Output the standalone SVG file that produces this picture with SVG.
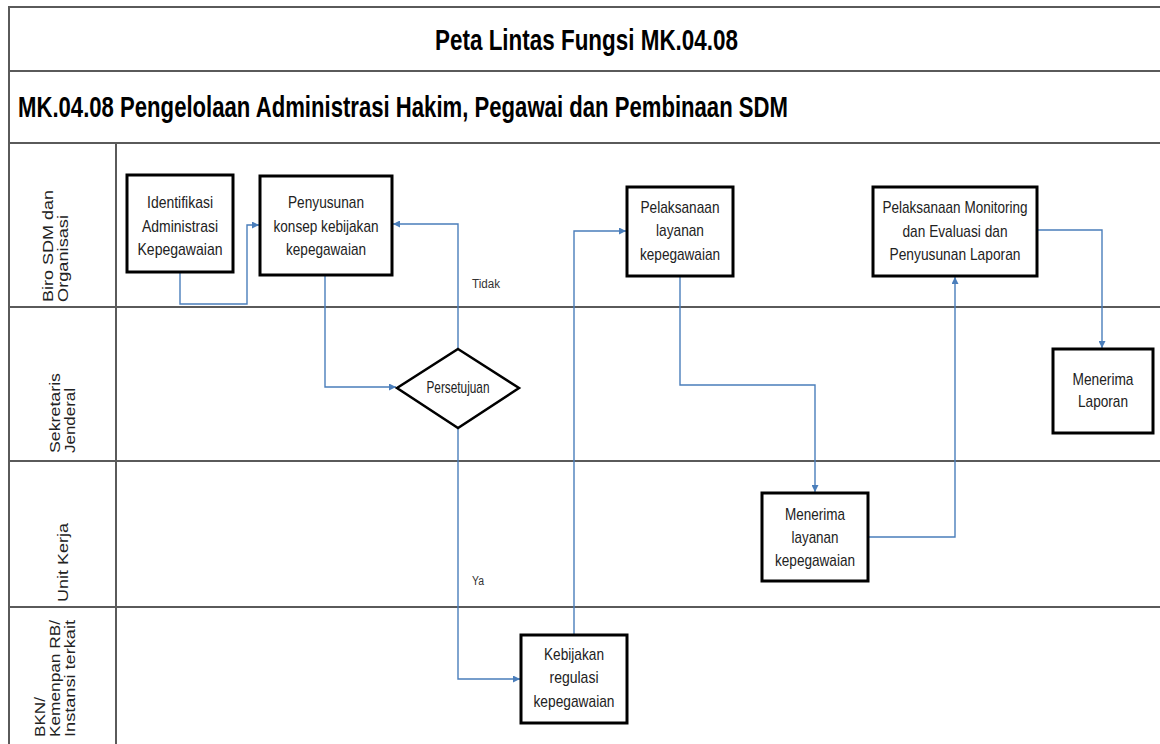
<svg xmlns="http://www.w3.org/2000/svg" width="1160" height="744" viewBox="0 0 1160 744">
<style>
.grid{stroke:#5a5a5a;stroke-width:2;fill:none}
.box{fill:#fff;stroke:#000;stroke-width:3}
.t{font-family:"Liberation Sans",Arial,sans-serif;font-size:17px;fill:#222;text-anchor:middle}
.lane{font-family:"Liberation Sans",Arial,sans-serif;font-size:14px;fill:#222}
.lbl{font-family:"Liberation Sans",Arial,sans-serif;font-size:12px;fill:#333}
.ttl{font-family:"Liberation Sans",Arial,sans-serif;font-weight:bold;fill:#000}
.c{fill:none;stroke:#4a7ebb;stroke-width:1.4}
</style>
<defs>
<marker id="ah" viewBox="0 0 10 10" refX="10" refY="5" markerWidth="7" markerHeight="7" markerUnits="userSpaceOnUse" orient="auto">
<path d="M0,0 L10,5 L0,10 z" fill="#4a7ebb"/>
</marker>
</defs>
<rect width="1160" height="744" fill="#fff"/>
<g id="grid">
<path class="grid" d="M9,745 V7 H1161"/>
<path class="grid" d="M9,71 H1161 M9,143 H1161 M9,307 H1161 M9,461 H1161 M9,607 H1161 M116,143 V745"/>
</g>
<g id="titles">
<text class="ttl" x="435" y="50" font-size="29" textLength="303" lengthAdjust="spacingAndGlyphs">Peta Lintas Fungsi MK.04.08</text>
<text class="ttl" x="18" y="117" font-size="29" textLength="770" lengthAdjust="spacingAndGlyphs">MK.04.08 Pengelolaan Administrasi Hakim, Pegawai dan Pembinaan SDM</text>
</g>
<g id="lanes">
<text class="lane" transform="translate(53,302) rotate(-90)" textLength="112" lengthAdjust="spacingAndGlyphs">Biro SDM dan</text>
<text class="lane" transform="translate(68,302) rotate(-90)" textLength="87" lengthAdjust="spacingAndGlyphs">Organisasi</text>
<text class="lane" transform="translate(60,453) rotate(-90)" textLength="80" lengthAdjust="spacingAndGlyphs">Sekretaris</text>
<text class="lane" transform="translate(75,453) rotate(-90)" textLength="65" lengthAdjust="spacingAndGlyphs">Jenderal</text>
<text class="lane" transform="translate(68,602) rotate(-90)" textLength="79" lengthAdjust="spacingAndGlyphs">Unit Kerja</text>
<text class="lane" transform="translate(45,737) rotate(-90)" textLength="40" lengthAdjust="spacingAndGlyphs">BKN/</text>
<text class="lane" transform="translate(60,737) rotate(-90)" textLength="117" lengthAdjust="spacingAndGlyphs">Kemenpan RB/</text>
<text class="lane" transform="translate(75,737) rotate(-90)" textLength="117" lengthAdjust="spacingAndGlyphs">Instansi terkait</text>
</g>
<g id="connectors">
<path class="c" d="M180,273 V304 H247 V225 H259" marker-end="url(#ah)"/>
<path class="c" d="M325,276 V387 H396" marker-end="url(#ah)"/>
<path class="c" d="M458,349 V224 H393" marker-end="url(#ah)"/>
<path class="c" d="M458,428 V679 H520" marker-end="url(#ah)"/>
<path class="c" d="M574,635 V231 H626" marker-end="url(#ah)"/>
<path class="c" d="M680,277 V385 H815 V492" marker-end="url(#ah)"/>
<path class="c" d="M869,537 H955 V277" marker-end="url(#ah)"/>
<path class="c" d="M1038,230 H1102 V348" marker-end="url(#ah)"/>
<text class="lbl" x="472" y="288" textLength="28" lengthAdjust="spacingAndGlyphs">Tidak</text>
<text class="lbl" x="472" y="585" textLength="12" lengthAdjust="spacingAndGlyphs">Ya</text>
</g>
<g id="n1">
<rect class="box" x="127" y="175" width="106" height="97"/>
<text class="t" x="180" y="208" textLength="66" lengthAdjust="spacingAndGlyphs">Identifikasi</text>
<text class="t" x="180" y="232" textLength="76" lengthAdjust="spacingAndGlyphs">Administrasi</text>
<text class="t" x="180" y="255" textLength="85" lengthAdjust="spacingAndGlyphs">Kepegawaian</text>
</g>
<g id="n2">
<rect class="box" x="260" y="176" width="132" height="99"/>
<text class="t" x="326" y="208" textLength="76" lengthAdjust="spacingAndGlyphs">Penyusunan</text>
<text class="t" x="326" y="232" textLength="105" lengthAdjust="spacingAndGlyphs">konsep kebijakan</text>
<text class="t" x="326" y="255" textLength="80" lengthAdjust="spacingAndGlyphs">kepegawaian</text>
</g>
<g id="n3">
<polygon points="458,349 519,388 458,428 397,388" fill="#fff" stroke="#000" stroke-width="2.5"/>
<text class="t" x="458" y="393" font-size="14" textLength="63" lengthAdjust="spacingAndGlyphs">Persetujuan</text>
</g>
<g id="n4">
<rect class="box" x="521" y="635" width="106" height="88"/>
<text class="t" x="574" y="660" textLength="60" lengthAdjust="spacingAndGlyphs">Kebijakan</text>
<text class="t" x="574" y="683" textLength="49" lengthAdjust="spacingAndGlyphs">regulasi</text>
<text class="t" x="574" y="707" textLength="81" lengthAdjust="spacingAndGlyphs">kepegawaian</text>
</g>
<g id="n5">
<rect class="box" x="627" y="187" width="106" height="89"/>
<text class="t" x="680" y="213" textLength="79" lengthAdjust="spacingAndGlyphs">Pelaksanaan</text>
<text class="t" x="680" y="236" textLength="48" lengthAdjust="spacingAndGlyphs">layanan</text>
<text class="t" x="680" y="260" textLength="80" lengthAdjust="spacingAndGlyphs">kepegawaian</text>
</g>
<g id="n6">
<rect class="box" x="762" y="493" width="106" height="88"/>
<text class="t" x="815" y="520" textLength="60" lengthAdjust="spacingAndGlyphs">Menerima</text>
<text class="t" x="815" y="543" textLength="47" lengthAdjust="spacingAndGlyphs">layanan</text>
<text class="t" x="815" y="566" textLength="80" lengthAdjust="spacingAndGlyphs">kepegawaian</text>
</g>
<g id="n7">
<rect class="box" x="873" y="187" width="164" height="89"/>
<text class="t" x="955" y="213" textLength="145" lengthAdjust="spacingAndGlyphs">Pelaksanaan Monitoring</text>
<text class="t" x="955" y="237" textLength="105" lengthAdjust="spacingAndGlyphs">dan Evaluasi dan</text>
<text class="t" x="955" y="260" textLength="131" lengthAdjust="spacingAndGlyphs">Penyusunan Laporan</text>
</g>
<g id="n8">
<rect class="box" x="1053" y="349" width="100" height="84"/>
<text class="t" x="1103" y="385" textLength="61" lengthAdjust="spacingAndGlyphs">Menerima</text>
<text class="t" x="1103" y="407" textLength="50" lengthAdjust="spacingAndGlyphs">Laporan</text>
</g>
</svg>
